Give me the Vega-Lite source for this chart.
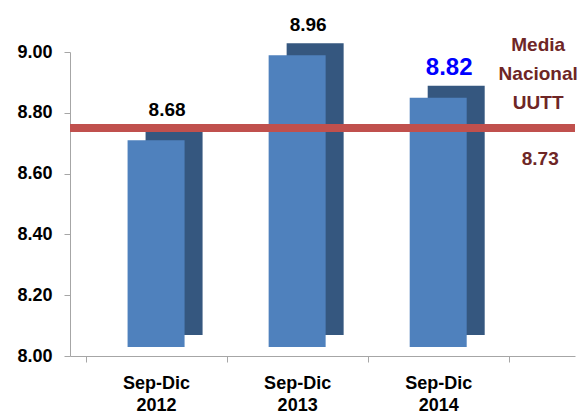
{
  "$schema": "https://vega.github.io/schema/vega-lite/v6.json",
  "autosize": "none",
  "width": 505,
  "height": 304,
  "padding": {"left": 70, "top": 52, "right": 13, "bottom": 57},
  "background": "white",
  "config": {"font": "Liberation Sans", "view": {"stroke": null}},
  "datasets": {
    "bars": [
      {"periodo": "Sep-Dic 2012", "valor": 8.68},
      {"periodo": "Sep-Dic 2013", "valor": 8.96},
      {"periodo": "Sep-Dic 2014", "valor": 8.82}
    ],
    "media": [
      {"periodo": "Sep-Dic 2014", "serie": "Media Nacional UUTT", "valor": 8.73}
    ]
  },
  "encoding": {
    "x": {
      "field": "periodo", "type": "nominal", "sort": null,
      "scale": {"paddingInner": 0, "paddingOuter": 0.29, "align": 0.19},
      "axis": {
        "title": null, "labelAngle": 0, "labelFontSize": 18, "labelFontWeight": "bold",
        "labelColor": "black", "labelExpr": "split(datum.label, ' ')", "labelLineHeight": 22,
        "domainColor": "#A6A6A6", "tickColor": "#A6A6A6", "tickSize": 6, "tickBand": "extent",
        "labelPadding": 12
      }
    }
  },
  "layer": [
    {
      "data": {"name": "bars"},
      "mark": {"type": "bar", "width": 57, "color": "#35577F", "xOffset": 18, "yOffset": -21, "y2Offset": -21},
      "encoding": {
        "y": {
          "field": "valor", "type": "quantitative",
          "scale": {"domain": [8, 9], "zero": false},
          "axis": {
            "title": null, "values": [8, 8.2, 8.4, 8.6, 8.8, 9], "format": ".2f",
            "labelFontSize": 18, "labelFontWeight": "bold", "labelColor": "black",
            "grid": false, "domainColor": "#A6A6A6", "tickColor": "#A6A6A6",
            "tickSize": 6, "labelPadding": 12
          }
        },
        "y2": {"datum": 8}
      }
    },
    {
      "data": {"name": "bars"},
      "mark": {"type": "bar", "width": 57, "color": "#4F81BD", "yOffset": -9, "y2Offset": -9},
      "encoding": {"y": {"field": "valor", "type": "quantitative"}, "y2": {"datum": 8}}
    },
    {
      "data": {"name": "media"},
      "mark": {"type": "rule", "color": "#C0504D", "strokeWidth": 8, "yOffset": -6},
      "encoding": {"y": {"field": "valor", "type": "quantitative"}, "x": null}
    },
    {
      "data": {"name": "bars"},
      "mark": {"type": "text", "fontWeight": "bold", "baseline": "middle", "xOffset": 11, "yOffset": -39},
      "encoding": {
        "y": {"field": "valor", "type": "quantitative"},
        "text": {"field": "valor", "type": "quantitative", "format": ".2f"},
        "color": {"condition": {"test": "datum.periodo === 'Sep-Dic 2014'", "value": "#0000FF"}, "value": "black"},
        "size": {"condition": {"test": "datum.periodo === 'Sep-Dic 2014'", "value": 24}, "value": 19}
      }
    },
    {
      "data": {"name": "media"},
      "mark": {"type": "text", "fontWeight": "bold", "fontSize": 19, "color": "#6E2626", "baseline": "middle", "xOffset": 100, "yOffset": -89, "lineHeight": 29, "text": ["Media", "Nacional", "UUTT"]},
      "encoding": {"y": {"field": "valor", "type": "quantitative"}}
    },
    {
      "data": {"name": "media"},
      "mark": {"type": "text", "fontWeight": "bold", "fontSize": 19, "color": "#6E2626", "baseline": "middle", "xOffset": 102, "yOffset": 25},
      "encoding": {
        "y": {"field": "valor", "type": "quantitative"},
        "text": {"field": "valor", "type": "quantitative", "format": ".2f"}
      }
    }
  ]
}
